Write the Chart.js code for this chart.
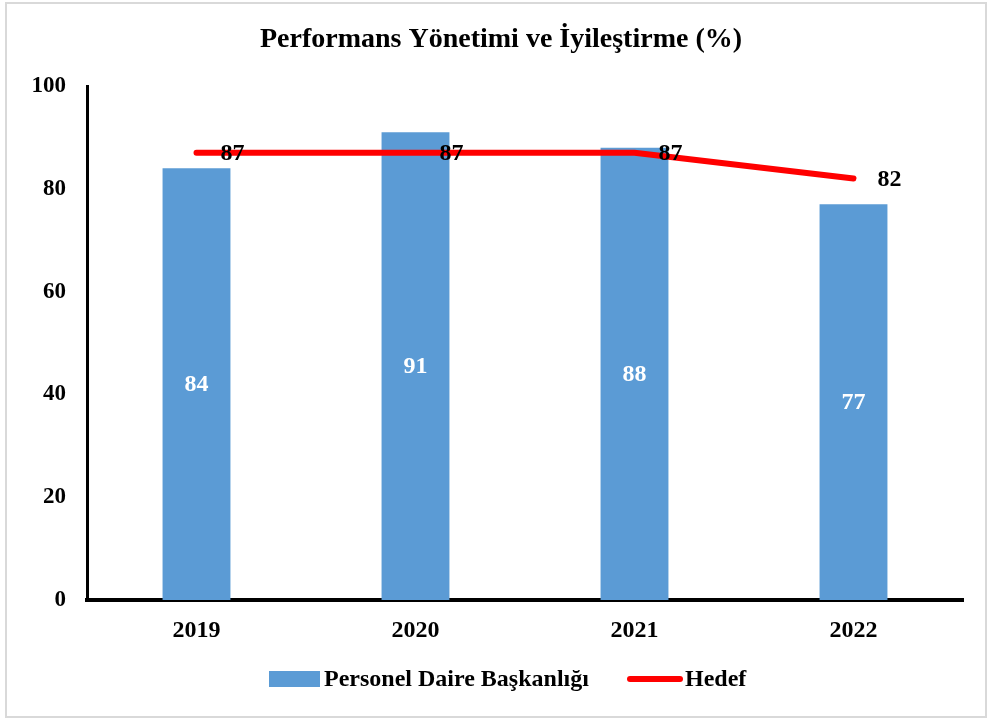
<!DOCTYPE html>
<html>
<head>
<meta charset="utf-8">
<script src="https://cdn.jsdelivr.net/npm/chart.js@4"></script>
<style>
  body { margin: 0; background: #fff; }
  #wrap { position: relative; width: 990px; height: 721px; }
  #frame { position: absolute; left: 5px; top: 2px; width: 978px; height: 712px; border: 2px solid #d9d9d9; pointer-events: none; }
  canvas { position: absolute; left: 0; top: 0; }
</style>
</head>
<body>
<div id="wrap">
  <canvas id="chart" width="990" height="721"></canvas>
  <div id="frame"></div>
</div>
<script>
// Performans Yönetimi ve İyileştirme - bars vs target line

const years = ["2019", "2020", "2021", "2022"];
const actual = [84, 91, 88, 77];
const target = [87, 87, 87, 82];
const yTicks = [0, 20, 40, 60, 80, 100];

const FONT = "'Liberation Serif', 'Times New Roman', serif";

// title drawn by hand so it can sit centred on the whole frame
const titlePlugin = {
    id: 'titlePlugin',
    afterDraw(chart) {
        const ctx = chart.ctx;
        ctx.save();
        ctx.font = "bold 28px " + FONT;
        ctx.fillStyle = '#000';
        ctx.textAlign = 'center';
        ctx.textBaseline = 'middle';
        ctx.fillText('Performans Yönetimi ve İyileştirme (%)', 501, 40);
        ctx.restore();
    }
};

// value labels: white in the middle of the bars, black to the right of line points
const valueLabels = {
    id: 'valueLabels',
    afterDatasetsDraw(chart) {
        const ctx = chart.ctx;
        ctx.save();
        ctx.font = "bold 24px " + FONT;
        ctx.textBaseline = 'middle';

        const bars = chart.getDatasetMeta(0).data;
        ctx.fillStyle = '#ffffff';
        ctx.textAlign = 'center';
        bars.forEach((bar, i) => {
            ctx.fillText(actual[i], bar.x, (bar.y + bar.base) / 2 + 1);
        });

        const pts = chart.getDatasetMeta(1).data;
        ctx.fillStyle = '#000000';
        ctx.textAlign = 'left';
        pts.forEach((p, i) => {
            ctx.fillText(target[i], p.x + 24, p.y + 1);
        });
        ctx.restore();
    }
};

// legend drawn by hand: blue box + thick red line
const customLegend = {
    id: 'customLegend',
    afterDraw(chart) {
        const ctx = chart.ctx;
        ctx.save();
        const y = 679;
        ctx.fillStyle = '#5B9BD5';
        ctx.fillRect(269, y - 8, 51, 16);
        ctx.font = "bold 24px " + FONT;
        ctx.fillStyle = '#000';
        ctx.textBaseline = 'middle';
        ctx.textAlign = 'left';
        ctx.fillText('Personel Daire Başkanlığı', 324, y + 1);

        ctx.strokeStyle = '#FF0000';
        ctx.lineWidth = 6;
        ctx.lineCap = 'round';
        ctx.beginPath();
        ctx.moveTo(630, y);
        ctx.lineTo(680, y);
        ctx.stroke();
        ctx.fillText('Hedef', 685, y + 1);
        ctx.restore();
    }
};

new Chart(document.getElementById("chart"), {
    type: 'bar',
    data: {
        labels: years,
        datasets: [{
            label: "Personel Daire Başkanlığı",
            data: actual,
            backgroundColor: '#5B9BD5',
            barPercentage: 0.31,
            categoryPercentage: 1.0,
            order: 2
        }, {
            type: 'line',
            label: "Hedef",
            data: target,
            borderColor: '#FF0000',
            borderWidth: 6,
            borderCapStyle: 'round',
            borderJoinStyle: 'round',
            pointRadius: 0,
            fill: false,
            order: 1
        }]
    },
    options: {
        responsive: false,
        animation: false,
        layout: {
            padding: { left: 0, right: 27, top: 86, bottom: 60 }
        },
        plugins: {
            legend: { display: false },
            tooltip: { enabled: false },
            title: { display: false }
        },
        scales: {
            x: {
                grid: { display: false, drawTicks: false },
                border: { display: true, color: '#000', width: 4 },
                ticks: {
                    color: '#000',
                    padding: 16,
                    font: { family: FONT, size: 24, weight: 'bold' }
                },
                afterFit(scale) { scale.height = 61; }
            },
            y: {
                min: 0,
                max: 100,
                afterBuildTicks(scale) {
                    scale.ticks = yTicks.map(v => ({ value: v }));
                },
                grid: { display: false, drawTicks: false },
                border: { display: true, color: '#000', width: 3 },
                ticks: {
                    color: '#000',
                    padding: 21,
                    font: { family: FONT, size: 23, weight: 'bold' }
                },
                afterFit(scale) { scale.width = 87; }
            }
        }
    },
    plugins: [titlePlugin, valueLabels, customLegend]
});
</script>
</body>
</html>
